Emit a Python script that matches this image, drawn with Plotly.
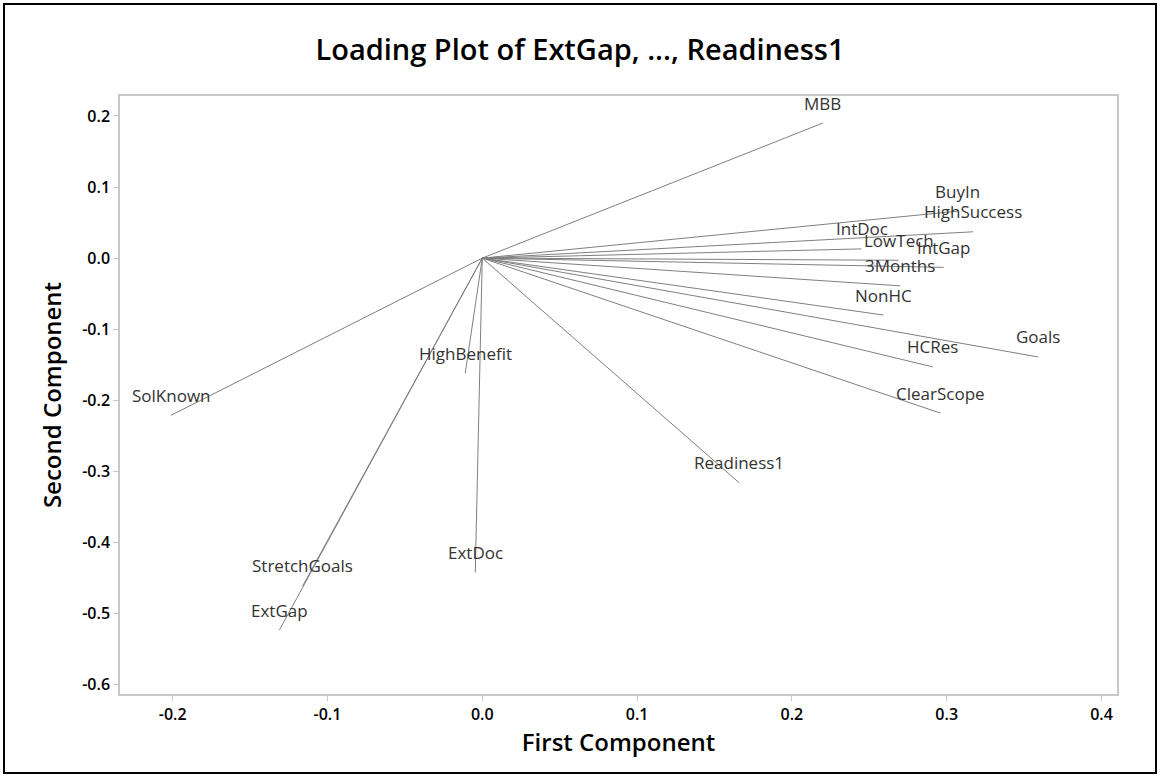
import plotly.graph_objects as go

variables = ["MBB", "BuyIn", "HighSuccess", "IntDoc", "LowTech", "IntGap", "3Months",
             "NonHC", "HCRes", "Goals", "ClearScope", "Readiness1", "SolKnown",
             "HighBenefit", "ExtDoc", "StretchGoals", "ExtGap"]
first_comp = [0.220, 0.307, 0.317, 0.245, 0.269, 0.298, 0.270,
              0.259, 0.291, 0.359, 0.296, 0.166, -0.201,
              -0.011, -0.0045, -0.116, -0.131]
second_comp = [0.190, 0.066, 0.037, 0.013, -0.003, -0.013, -0.039,
               -0.080, -0.153, -0.139, -0.218, -0.316, -0.221,
               -0.162, -0.442, -0.461, -0.523]

x_ticks = [-0.2, -0.1, 0.0, 0.1, 0.2, 0.3, 0.4]
x_tick_labels = ["-0.2", "-0.1", "0.0", "0.1", "0.2", "0.3", "0.4"]
y_ticks = [0.2, 0.1, 0.0, -0.1, -0.2, -0.3, -0.4, -0.5, -0.6]
y_tick_labels = ["0.2", "0.1", "0.0", "-0.1", "-0.2", "-0.3", "-0.4", "-0.5", "-0.6"]

FONT = "Open Sans"

lx, ly = [], []
for xv, yv in zip(first_comp, second_comp):
    lx += [0, xv, None]
    ly += [0, yv, None]

fig = go.Figure()
fig.add_trace(go.Scatter(x=lx, y=ly, mode="lines",
                         line=dict(color="#7f7f7f", width=1),
                         hoverinfo="skip", showlegend=False))

for name, xv, yv in zip(variables, first_comp, second_comp):
    fig.add_annotation(x=xv, y=yv, text=name, showarrow=False, yshift=20,
                       font=dict(family=FONT, size=17, color="#333333"))

L, R, T, B = 120, 43, 96, 83
W, H = 1160, 777
pw, ph = W - L - R, H - T - B

# outer black frame
fig.add_shape(type="rect", xref="paper", yref="paper",
              x0=(4 - L) / pw, x1=(W - 4 - L) / pw,
              y0=(H - B - (H - 4)) / ph, y1=(H - B - 4) / ph,
              line=dict(color="black", width=2), layer="below")

fig.update_layout(
    width=W, height=H,
    margin=dict(l=L, r=R, t=T, b=B, autoexpand=False),
    paper_bgcolor="white", plot_bgcolor="white",
    title=dict(text="Loading Plot of ExtGap, ..., Readiness1",
               x=0.5, xref="container", xanchor="center",
               y=1 - 50 / H, yanchor="middle",
               font=dict(family=FONT, size=29, color="black", weight=600)),
    xaxis=dict(range=[-0.234, 0.410], tickvals=x_ticks, ticktext=x_tick_labels,
               automargin=False,
               showgrid=False, zeroline=False, showline=True, mirror=True,
               linecolor="#c8c8c8", linewidth=1.5,
               ticks="outside", ticklen=5, tickcolor="#c8c8c8",
               tickfont=dict(family=FONT, size=16, color="black", weight=600),
               title=dict(text="First Component", standoff=8,
                          font=dict(family=FONT, size=24, color="black", weight=600))),
    yaxis=dict(range=[-0.613, 0.228], tickvals=y_ticks, ticktext=y_tick_labels,
               automargin=False,
               showgrid=False, zeroline=False, showline=True, mirror=True,
               linecolor="#c8c8c8", linewidth=1.5,
               ticks="outside", ticklen=5, tickcolor="#c8c8c8",
               tickfont=dict(family=FONT, size=16, color="black", weight=600),
               title=dict(text="Second Component", standoff=14,
                          font=dict(family=FONT, size=24, color="black", weight=600))),
)

fig.write_html("out.html", config={"displayModeBar": False},
               post_script="document.body.style.margin='0';document.body.style.overflow='hidden';")
